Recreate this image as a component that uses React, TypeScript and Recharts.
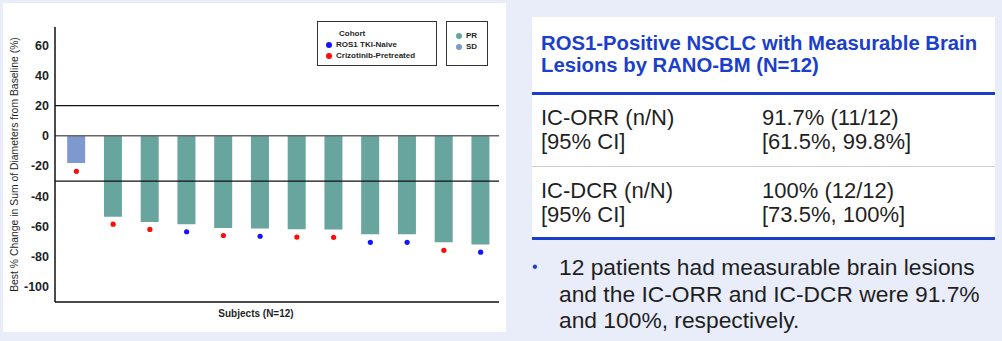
import React from 'react';
import {
  ComposedChart,
  Bar,
  Scatter,
  Cell,
  XAxis,
  YAxis,
  ReferenceLine,
  Label,
} from 'recharts';

const subjects = ['S1', 'S2', 'S3', 'S4', 'S5', 'S6', 'S7', 'S8', 'S9', 'S10', 'S11', 'S12'];
const bestChange = [-18, -53.5, -57, -58.5, -61, -61.3, -61.8, -62, -65.2, -65.2, -70.5, -72];
const markerPos = [-23.5, -58.5, -62, -63.5, -66, -66.5, -67, -67.2, -70.5, -70.5, -75.8, -77];
const response = ['SD', 'PR', 'PR', 'PR', 'PR', 'PR', 'PR', 'PR', 'PR', 'PR', 'PR', 'PR'];
const cohort = ['pre', 'pre', 'pre', 'naive', 'pre', 'naive', 'pre', 'pre', 'naive', 'naive', 'pre', 'naive'];
const yTicks = [60, 40, 20, 0, -20, -40, -60, -80, -100];

const chartData = subjects.map((s, i) => ({
  name: s,
  change: bestChange[i],
  marker: markerPos[i],
  response: response[i],
  cohort: cohort[i],
}));

const PR_COLOR = '#68a59f';
const SD_COLOR = '#7e98d0';
const NAIVE_COLOR = '#1414ff';
const PRE_COLOR = '#ff0a0a';
const BLUE = '#1b3fcc';
const TEXT = '#1f1f1f';

const chartFont = '"Liberation Sans", Arial, sans-serif';

function LegendBoxes() {
  const row: React.CSSProperties = { display: 'flex', alignItems: 'center', height: 11 };
  const dot = (c: string): React.CSSProperties => ({
    width: 6,
    height: 6,
    borderRadius: 3,
    background: c,
    marginRight: 4,
  });
  return (
    <div style={{ display: 'flex', fontFamily: chartFont, fontWeight: 700, fontSize: 8, color: TEXT }}>
      <div style={{ width: 120, height: 45, border: '1px solid #333', padding: '6px 0 0 8px', boxSizing: 'border-box' }}>
        <div style={{ ...row, paddingLeft: 13 }}>Cohort</div>
        <div style={row}><span style={dot(NAIVE_COLOR)} />ROS1 TKI-Naive</div>
        <div style={row}><span style={dot(PRE_COLOR)} />Crizotinib-Pretreated</div>
      </div>
      <div style={{ width: 42, height: 45, border: '1px solid #333', marginLeft: 9, padding: '8px 0 0 9px', boxSizing: 'border-box' }}>
        <div style={row}><span style={dot(PR_COLOR)} />PR</div>
        <div style={row}><span style={dot(SD_COLOR)} />SD</div>
      </div>
    </div>
  );
}

function WaterfallChart() {
  return (
    <ComposedChart
      width={506}
      height={332}
      data={chartData}
      margin={{ top: 27, right: 7, bottom: 8, left: 15 }}
      barCategoryGap="25%"
      style={{ fontFamily: chartFont }}
    >
      <XAxis
        dataKey="name"
        tick={false}
        tickLine={false}
        height={22}
        padding={{ left: 3, right: 0 }}
        axisLine={{ stroke: '#111', strokeWidth: 1.5 }}
      >
        <Label
          value="Subjects (N=12)"
          position="center"
          dx={-21}
          style={{ fontSize: 10, fontWeight: 700, fill: TEXT }}
        />
      </XAxis>
      <YAxis
        domain={[-110, 72]}
        ticks={yTicks}
        width={40}
        tickLine={false}
        tickSize={4}
        allowDataOverflow
        axisLine={{ stroke: '#111', strokeWidth: 1.5 }}
        tick={{ fontSize: 12.5, fontWeight: 700, fill: TEXT }}
      >
        <Label
          value="Best % Change in Sum of Diameters from Baseline (%)"
          angle={-90}
          position="center"
          dx={-21}
          style={{ fontSize: 10.4, fill: TEXT, textAnchor: 'middle' }}
        />
      </YAxis>
      <ReferenceLine y={20} stroke="#111" strokeWidth={1.3} />
      <ReferenceLine y={-30} stroke="#111" strokeWidth={1.3} />
      <Bar dataKey="change" isAnimationActive={false}>
        {chartData.map((d) => (
          <Cell key={d.name} fill={d.response === 'SD' ? SD_COLOR : PR_COLOR} />
        ))}
      </Bar>
      <ReferenceLine y={0} stroke="#666" strokeWidth={1.5} />
      <Scatter
        dataKey="marker"
        isAnimationActive={false}
        shape={(p: any) => <circle cx={p.cx} cy={p.cy} r={2.6} fill={p.payload.cohort === 'naive' ? NAIVE_COLOR : PRE_COLOR} />}
      />
    </ComposedChart>
  );
}

export default function App() {
  const rowText: React.CSSProperties = {
    position: 'absolute',
    fontSize: 22,
    lineHeight: '24px',
    color: TEXT,
    whiteSpace: 'nowrap',
  };
  return (
    <div
      style={{
        position: 'absolute',
        left: 0,
        top: 0,
        width: 1002,
        height: 341,
        background: '#e8edf9',
        fontFamily: chartFont,
        overflow: 'hidden',
      }}
    >
      <div style={{ position: 'absolute', left: 3, top: 3, width: 503, height: 329, background: '#fff' }} />
      <div style={{ position: 'absolute', left: 0, top: 0 }}>
        <WaterfallChart />
      </div>
      <div style={{ position: 'absolute', left: 317, top: 21 }}>
        <LegendBoxes />
      </div>

      <div style={{ position: 'absolute', left: 532, top: 17, width: 463, height: 223, background: '#fff' }} />
      <div
        style={{
          position: 'absolute',
          left: 541,
          top: 32,
          fontSize: 20.3,
          lineHeight: '22px',
          fontWeight: 700,
          color: BLUE,
          whiteSpace: 'nowrap',
        }}
      >
        ROS1-Positive NSCLC with Measurable Brain
        <br />
        Lesions by RANO-BM (N=12)
      </div>
      <div style={{ position: 'absolute', left: 532, top: 92, width: 463, height: 3, background: BLUE }} />

      <div style={{ ...rowText, left: 541, top: 106 }}>IC-ORR (n/N)<br />[95% CI]</div>
      <div style={{ ...rowText, left: 762, top: 106 }}>91.7% (11/12)<br />[61.5%, 99.8%]</div>
      <div style={{ position: 'absolute', left: 532, top: 166, width: 463, height: 1, background: '#cfcfcf' }} />
      <div style={{ ...rowText, left: 541, top: 179 }}>IC-DCR (n/N)<br />[95% CI]</div>
      <div style={{ ...rowText, left: 762, top: 179 }}>100% (12/12)<br />[73.5%, 100%]</div>
      <div style={{ position: 'absolute', left: 532, top: 237, width: 463, height: 3, background: BLUE }} />

      <div style={{ position: 'absolute', left: 532, top: 255, fontSize: 16, color: BLUE, lineHeight: '24px' }}>•</div>
      <div
        style={{
          position: 'absolute',
          left: 559,
          top: 254,
          fontSize: 22.8,
          lineHeight: '26.5px',
          color: TEXT,
          whiteSpace: 'nowrap',
        }}
      >
        12 patients had measurable brain lesions
        <br />
        and the IC-ORR and IC-DCR were 91.7%
        <br />
        and 100%, respectively.
      </div>
    </div>
  );
}
